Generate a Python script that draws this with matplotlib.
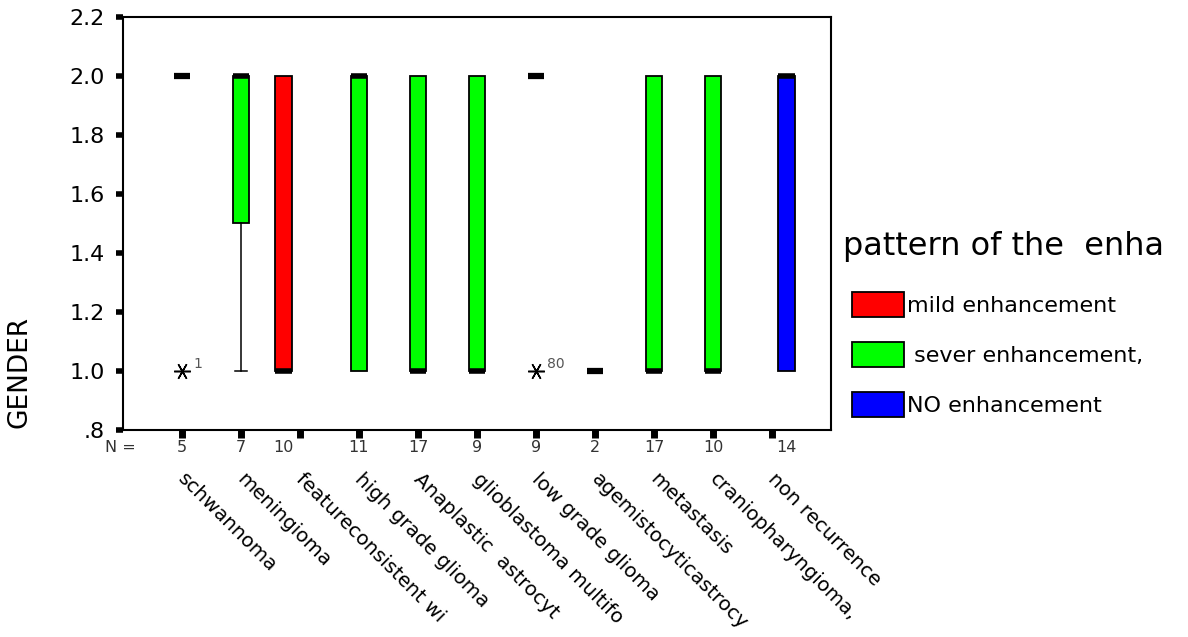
import matplotlib
matplotlib.use("Agg")
import matplotlib.pyplot as plt
from matplotlib.patches import Patch

plt.rcParams['font.family'] = ['DejaVu Sans']

# one box per tumour type, coloured by enhancement pattern
categories = ["schwannoma", "meningioma", "featureconsistent wi", "high grade glioma",
              "Anaplastic  astrocyt", "glioblastoma multifo", "low grade glioma",
              "agemistocyticastrocy", "metastasis", "craniopharyngioma,", "non recurrence"]
n_counts = [5, 7, 10, 11, 17, 9, 9, 2, 17, 10, 14]
pattern = ["sever", "sever", "mild", "sever", "sever", "sever", "sever",
           "sever", "sever", "sever", "NO"]
q1 = [2.0, 1.5, 1.0, 1.0, 1.0, 1.0, 2.0, 1.0, 1.0, 1.0, 1.0]
median = [2.0, 2.0, 1.0, 2.0, 1.0, 1.0, 2.0, 1.0, 1.0, 1.0, 2.0]
q3 = [2.0, 2.0, 2.0, 2.0, 2.0, 2.0, 2.0, 1.0, 2.0, 2.0, 2.0]
whisker_low = [2.0, 1.0, 1.0, 1.0, 1.0, 1.0, 2.0, 1.0, 1.0, 1.0, 1.0]
whisker_high = [2.0, 2.0, 2.0, 2.0, 2.0, 2.0, 2.0, 1.0, 2.0, 2.0, 2.0]
extremes = [[1.0], [], [], [], [], [], [1.0], [], [], [], []]
extreme_ids = [["1"], [], [], [], [], [], ["80"], [], [], [], []]

pattern_names = ["mild", "sever", "NO"]
pattern_labels = ["mild enhancement", " sever enhancement,", "NO enhancement"]
pattern_colors = {"mild": "#ff0000", "sever": "#00ff00", "NO": "#0000ff"}
pattern_offset = {"mild": -0.28, "sever": 0.0, "NO": 0.25}

fig = plt.figure(figsize=(11.88, 6.37), dpi=100)
ax = fig.add_axes([0.1035, 0.325, 0.596, 0.6483])

for i, cat in enumerate(categories):
    pos = i + 1 + pattern_offset[pattern[i]]
    stats = [{"q1": q1[i], "med": median[i], "q3": q3[i],
              "whislo": whisker_low[i], "whishi": whisker_high[i],
              "fliers": []}]
    collapsed = q1[i] == q3[i]
    ax.bxp(stats, positions=[pos], widths=0.28, capwidths=0.2, patch_artist=True,
           showfliers=False, showcaps=whisker_low[i] < q1[i],
           boxprops=dict(facecolor=pattern_colors[pattern[i]], edgecolor="black",
                         linewidth=1.3 if not collapsed else 0),
           medianprops=dict(color="black", linewidth=4 if not collapsed else 4.5,
                            solid_capstyle="butt"),
           whiskerprops=dict(color="black", linewidth=1.1),
           capprops=dict(color="black", linewidth=1.1),
           manage_ticks=False)
    for val, lab in zip(extremes[i], extreme_ids[i]):
        ax.plot(pos, val, marker=(6, 2, 90), ms=12, mew=1.1, color="black",
                linestyle="none")
        ax.annotate(lab, (pos, val), xytext=(8, 0), textcoords="offset points",
                    fontsize=10, color="#555555", ha="left", va="bottom")
    ax.text(pos, -0.042, str(n_counts[i]), transform=ax.get_xaxis_transform(),
            ha="center", va="center", fontsize=11.5, color="#333333")
    ax.text(i + 1 + 0.1, -0.096, cat, transform=ax.get_xaxis_transform(),
            rotation=-45, rotation_mode="anchor", ha="left", va="top",
            fontsize=14.3, color="black")

ax.text(-0.04, -0.042, "N =", transform=ax.get_xaxis_transform(),
        ha="center", va="center", fontsize=11.5, color="#333333")

ax.set_xlim(0, 12)
ax.set_ylim(0.8, 2.2)
ax.set_xticks(range(1, len(categories) + 1))
ax.set_xticklabels([])
yt = [0.8, 1.0, 1.2, 1.4, 1.6, 1.8, 2.0, 2.2]
ax.set_yticks(yt)
ax.set_yticklabels([".8", "1.0", "1.2", "1.4", "1.6", "1.8", "2.0", "2.2"])
ax.tick_params(axis="y", direction="out", length=5, width=4, pad=8, labelsize=16)
ax.tick_params(axis="x", direction="out", length=6, width=5)
for sp in ax.spines.values():
    sp.set_linewidth(1.5)

fig.text(20 / 1188, 1 - 372 / 637, "GENDER", rotation=90, ha="center", va="center",
         fontsize=19)

fig.text(843 / 1188, 1 - 247 / 637, "pattern of the  enha", ha="left", va="center",
         fontsize=23)
handles = [Patch(facecolor=pattern_colors[p], edgecolor="black", linewidth=1.3)
           for p in pattern_names]
fig.legend(handles, pattern_labels, loc="upper left",
           bbox_to_anchor=(852 / 1188, 1 - 292 / 637), frameon=False,
           fontsize=16, handlelength=2.35, handleheight=1.35, handletextpad=0.12,
           labelspacing=1.13, borderpad=0, borderaxespad=0)

fig.savefig("out.png", dpi=100)
